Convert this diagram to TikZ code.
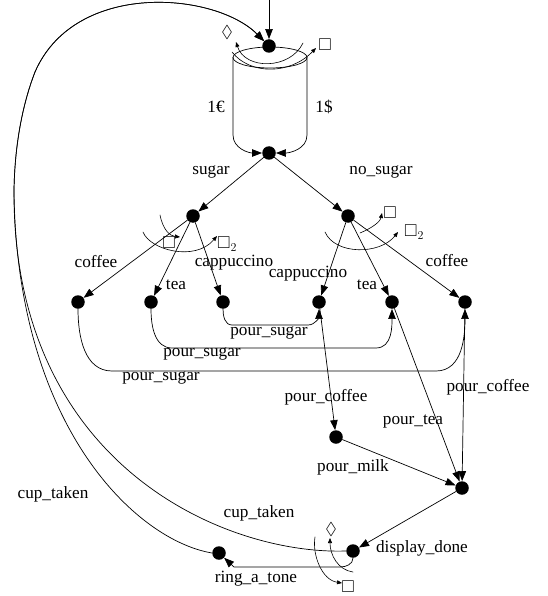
\documentclass[tikz,border=0pt]{standalone}
\usepackage{amssymb}
\usepackage{fontspec}
\setmainfont{Liberation Serif}
\usepackage{tikz}
\usetikzlibrary{arrows.meta}

\begin{document}
\begin{tikzpicture}[line cap=round,line join=round,x=1pt,y=1pt,
  dot/.style={circle,fill=black,inner sep=0pt,minimum size=13.5pt},
  lbl/.style={inner sep=1pt,font=\fontsize{17.2}{20}\selectfont},
  edge/.style={line width=0.7pt,-{Triangle[length=10pt,width=7.5pt]}},
  choice/.style={line width=0.6pt,-{Triangle[length=5pt,width=4pt]}}]
\useasboundingbox (0,0) rectangle (547,-596);
% the coin slot
\draw[line width=0.7pt] (270,-57.5) ellipse (37 and 10.5);
\coordinate (cylL) at (233,-57.5);
\coordinate (cylR) at (307,-57.5);
\coordinate (init) at (269,0);
% states
\node[dot] (top) at (269,-46) {};
\node[dot] (bot) at (269,-153) {};
\node[dot] (s) at (193,-216) {};
\node[dot] (ns) at (348,-216) {};
\node[dot] (sc) at (78,-302) {};
\node[dot] (st) at (151,-302) {};
\node[dot] (sp) at (223,-302) {};
\node[dot] (np) at (319,-302) {};
\node[dot] (nt) at (392,-302) {};
\node[dot] (nc) at (465,-302) {};
\node[dot] (milk) at (336,-437) {};
\node[dot] (done) at (462,-488) {};
\node[dot] (disp) at (353,-551) {};
\node[dot] (ring) at (219,-553) {};
% transitions
\draw[edge] (init) -- (top);
\draw[edge] (cylL) -- (233,-135) to[out=-90,in=180] (bot);
\draw[edge] (cylR) -- (307,-135) to[out=-90,in=0] (bot);
\draw[edge] (bot) -- (s);
\draw[edge] (bot) -- (ns);
\draw[edge] (s) -- (sc);
\draw[edge] (s) -- (st);
\draw[edge] (s) -- (sp);
\draw[edge] (ns) -- (np);
\draw[edge] (ns) -- (nt);
\draw[edge] (ns) -- (nc);
\draw[edge] (sp.south) to[out=-90,in=180] (232,-325) -- (308,-325) to[out=0,in=-90] (np.south);
\draw[edge] (st.south) to[out=-90,in=180] (172,-348) -- (376,-348) to[out=0,in=-90] (nt.south);
\draw[edge] (sc.south) to[out=-90,in=180] (112,-371) -- (436,-371) to[out=0,in=-90] (nc.south);
\draw[edge] (np) -- (milk);
\draw[edge] (nt) -- (done);
\draw[edge] (nc) -- (done);
\draw[edge] (milk) -- (done);
\draw[edge] (done) -- (disp);
\draw[edge] (disp.south) to[out=-90,in=0] (340,-567) -- (234,-567) -- (ring);
\draw[edge] (disp.west) .. controls (225,-555) and (12,-465) .. (14,-190)
  .. controls (15,-130) and (28,-90) .. (35,-72)
  .. controls (75,20) and (215,8) .. (top);
\draw[edge] (ring.west) .. controls (135,-540) and (16,-425) .. (14,-190)
  .. controls (15,-130) and (28,-90) .. (35,-72)
  .. controls (75,20) and (215,8) .. (top);
% choice marks
\draw[choice] (303,-43) .. controls (290,-70) and (245,-70) .. (236,-42);
\draw[choice] (232,-52) .. controls (250,-75) and (290,-75) .. (316,-48);
\draw[choice] (160,-215) .. controls (163,-230) and (170,-236) .. (180,-237);
\draw[choice] (143,-232) .. controls (150,-250) and (195,-262) .. (217,-236);
\draw[choice] (360,-233) .. controls (372,-228) and (380,-222) .. (382,-213);
\draw[choice] (325,-232) .. controls (335,-255) and (380,-255) .. (398,-232);
\draw[choice] (315,-537) .. controls (312,-555) and (322,-580) .. (342,-583);
\draw[choice] (353,-572) .. controls (338,-570) and (330,-555) .. (330,-538);
% labels
\node[lbl] (l-euro) at (216,-107) {1€};
\node[lbl] (l-dollar) at (324,-107) {1\$};
\node[lbl] (l-sugar) at (211,-172) {sugar};
\node[lbl] (l-nosugar) at (381,-172) {no\_sugar};
\node[lbl] (l-scoffee) at (96,-262) {coffee};
\node[lbl] (l-stea) at (176,-285) {tea};
\node[lbl] (l-scapp) at (234,-263) {cappuccino};
\node[lbl] (l-ncapp) at (308,-274) {cappuccino};
\node[lbl] (l-ntea) at (367,-285) {tea};
\node[lbl] (l-ncoffee) at (447,-261) {coffee};
\node[lbl] (l-ps1) at (269,-333) {pour\_sugar};
\node[lbl] (l-ps2) at (202,-354) {pour\_sugar};
\node[lbl] (l-ps3) at (161,-378) {pour\_sugar};
\node[lbl] (l-pc1) at (326,-397) {pour\_coffee};
\node[lbl] (l-pc2) at (488,-387) {pour\_coffee};
\node[lbl] (l-pt) at (413,-421) {pour\_tea};
\node[lbl] (l-pm) at (353,-467) {pour\_milk};
\node[lbl] (l-disp) at (422,-548) {display\_done};
\node[lbl] (l-ring) at (256,-579) {ring\_a\_tone};
\node[lbl] (l-cup1) at (53,-494) {cup\_taken};
\node[lbl] (l-cup2) at (259,-513) {cup\_taken};
\node[lbl] (m-d1) at (227,-33) {$\Diamond$};
\node[lbl] (m-b1) at (325,-45) {$\square$};
\node[lbl] (m-b2) at (169,-243) {$\square$};
\node[lbl] (m-b3) at (227,-244) {$\square_2$};
\node[lbl] (m-b4) at (390,-213) {$\square$};
\node[lbl] (m-b5) at (414,-232) {$\square_2$};
\node[lbl] (m-d2) at (331,-529) {$\Diamond$};
\node[lbl] (m-b6) at (348,-587) {$\square$};
\end{tikzpicture}
\end{document}
